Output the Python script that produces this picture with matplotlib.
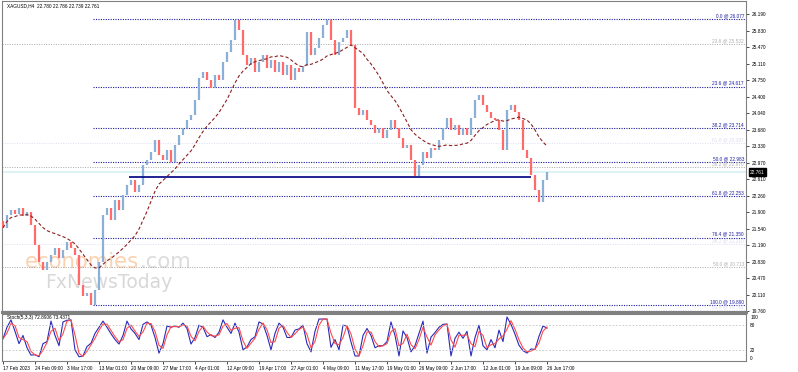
import matplotlib
matplotlib.use("Agg")
import matplotlib.pyplot as plt
import numpy as np
import pandas as pd

plt.rcParams['font.family'] = ['Liberation Sans', 'DejaVu Sans']

# H4 closes, one sample every 4 bars
closes = [21.56, 21.84, 21.95, 21.86, 21.99, 21.82, 21.90, 21.62, 21.19, 20.82,
          20.65, 20.82, 20.97, 21.12, 20.91, 21.08, 21.25, 21.12, 20.97, 20.32,
          20.08, 20.15, 19.90, 20.21, 20.82, 21.84, 21.99, 21.73, 22.16, 21.95,
          22.27, 22.49, 22.60, 22.34, 22.49, 22.92, 23.03, 23.20, 23.46, 23.14,
          23.03, 23.25, 22.99, 23.35, 23.57, 23.72, 23.90, 24.00, 24.33, 24.80,
          24.93, 24.76, 24.59, 24.87, 24.76, 25.15, 25.37, 25.63, 26.07, 25.84,
          25.30, 25.09, 25.24, 24.93, 25.15, 25.30, 25.02, 25.19, 24.93, 25.15,
          24.87, 25.09, 24.76, 25.02, 24.93, 25.06, 25.80, 25.30, 25.45, 25.67,
          25.95, 26.06, 25.63, 25.30, 25.58, 25.67, 25.84, 25.52, 24.15, 24.00,
          24.11, 23.90, 23.79, 23.61, 23.72, 23.51, 23.68, 23.90, 23.72, 23.51,
          23.29, 23.35, 23.03, 22.68, 22.92, 23.20, 23.07, 23.29, 23.25, 23.46,
          23.72, 23.94, 23.68, 23.79, 23.57, 23.72, 23.57, 23.94, 24.33, 24.44,
          24.22, 24.07, 23.94, 23.90, 23.68, 23.25, 24.11, 24.22, 24.07, 23.90,
          23.25, 23.07, 22.70, 22.38, 22.12, 22.60, 22.761]

# Stochastic %K, same sampling
stoch_k = [47, 75, 93, 65, 35, 55, 25, 7, 8, 3,
           35, 40, 90, 55, 30, 88, 92, 93, 20, 3,
           5, 28, 36, 60, 75, 90, 75, 59, 45, 34,
           55, 90, 71, 60, 45, 82, 88, 80, 50, 12,
           35, 78, 75, 78, 75, 85, 72, 34, 50, 80,
           75, 52, 57, 50, 63, 93, 75, 60, 85, 63,
           20, 27, 45, 52, 88, 83, 55, 20, 60, 85,
           75, 50, 50, 68, 71, 80, 35, 15, 65, 95,
           95, 95, 26, 45, 20, 80, 78, 39, 5, 5,
           55, 72, 55, 25, 30, 30, 40, 88, 55, 5,
           66, 50, 15, 30, 60, 90, 12, 51, 62, 75,
           82, 83, 5, 48, 63, 48, 65, 5, 50, 80,
           30, 20, 45, 25, 68, 40, 100, 82, 58, 31,
           18, 12, 22, 21, 53, 78, 72.89]

date_labels = ["17 Feb 2023", "24 Feb 09:00", "3 Mar 17:00", "13 Mar 01:00",
               "20 Mar 09:00", "27 Mar 17:00", "4 Apr 01:00", "12 Apr 09:00",
               "19 Apr 17:00", "27 Apr 01:00", "4 May 09:00", "11 May 17:00",
               "19 May 01:00", "26 May 09:00", "2 Jun 17:00", "12 Jun 01:00",
               "19 Jun 09:00", "26 Jun 17:00"]

price_ticks = [26.190, 25.830, 25.470, 25.110, 24.750, 24.400, 24.040, 23.680,
               23.330, 22.970, 22.610, 22.260, 21.900, 21.540, 21.190, 20.830,
               20.470, 20.110, 19.760]

fib_main_levels = [26.077, 24.617, 23.714, 22.983, 22.253, 21.350, 19.890]
fib_main_pcts = ["0.0", "23.6", "38.2", "50.0", "61.8", "76.4", "100.0"]
fib_grey_levels = [25.532, 22.870, 20.713]
fib_grey_pcts = ["23.6", "38.2", "50.0"]
fib_faint_levels = [23.397, 21.210, 19.781]
fib_faint_pcts = ["61.8", "38.2", "61.8"]

support_level = 22.66
last_price = 22.761

W, H = 798, 372
fig = plt.figure(figsize=(W / 100, H / 100), dpi=100)
fig.patch.set_facecolor("white")

ax = fig.add_axes([2 / W, 60 / H, 744 / W, 311 / H])
ax2 = fig.add_axes([2 / W, 11 / H, 744 / W, 47 / H], sharex=ax)

step = 4
n = np.arange(len(closes)) * step
c = np.array(closes)
o = np.r_[21.70, c[:-1]]

# watermark, behind the bars
t1 = ax.text(25 / W, 1 - 262 / H, "economies", fontsize=15.3, color="#fbd2b0",
             va="center", ha="left", zorder=0, family="DejaVu Sans",
             transform=fig.transFigure)
ax.annotate(".com", xy=(1, 0), xycoords=t1, va="bottom", ha="left",
            fontsize=15.3, color="#dcdcdc", family="DejaVu Sans", zorder=0)
ax.text(45 / W, 1 - 282 / H, "FxNewsToday", fontsize=13.5, color="#d8d8d8",
        va="center", ha="left", zorder=0, family="DejaVu Sans",
        transform=fig.transFigure)

# bars
bull = "#8ab0d8"
bear = "#ff6a6a"
cols = [bull if cc >= oo else bear for oo, cc in zip(o, c)]
ax.vlines(n, np.minimum(o, c), np.maximum(o, c), colors=cols, lw=1.6, zorder=3)

# moving average
ma = pd.Series(c).rolling(15, min_periods=1).mean()
ax.plot(n, ma, color="#8b2020", lw=0.8, ls=(0, (3, 2)), zorder=4)

# fib lines
navy = "#1c1ca0"
fs = 3.4
for lv, p in zip(fib_main_levels, fib_main_pcts):
    ax.hlines(lv, 90, 743, colors=navy, lw=0.8, ls=(0, (1, 1.2)), zorder=2)
    ax.text(741, lv + 0.02, f"{p} @ {lv:.3f}", fontsize=fs, color=navy,
            ha="right", va="bottom")
for lv, p in zip(fib_grey_levels, fib_grey_pcts):
    ax.axhline(lv, color="#a8a8a8", lw=0.7, ls=(0, (1, 1.5)), zorder=1)
    ax.text(741, lv + 0.02, f"{p} @ {lv:.3f}", fontsize=fs, color="#b0b0b0",
            ha="right", va="bottom")
for lv, p in zip(fib_faint_levels, fib_faint_pcts):
    ax.axhline(lv, color="#dcdcf2", lw=0.7, ls=(0, (1, 1.5)), zorder=1)
    ax.text(741, lv + 0.02, f"{p} @ {lv:.3f}", fontsize=fs, color="#dcdcf0",
            ha="right", va="bottom")

ax.axhline(last_price, color="#d6f0f2", lw=1.2, zorder=1)
ax.hlines(support_level, 126, 528, colors="#10108a", lw=1.3, zorder=5)

ax.set_xlim(-1, 743)
ax.set_ylim(19.738, 26.471)
ax.yaxis.tick_right()
ax.set_yticks(price_ticks)
ax.set_yticklabels([f"{v:.3f}" for v in price_ticks])
ax.tick_params(axis="y", labelsize=fs, length=2, pad=2, width=0.5)
ax.tick_params(axis="x", bottom=False, labelbottom=False)
for s in ax.spines.values():
    s.set_color("#808080")
    s.set_linewidth(0.8)
ax.spines["bottom"].set_linewidth(2.2)

ax.text(4, 26.43, "XAGUSD,H4  22.780 22.786 22.739 22.761", fontsize=fs,
        ha="left", va="top", color="black")
ax.annotate(f"{last_price:.3f}", xy=(1.0, last_price), xycoords=("axes fraction", "data"),
            xytext=(3, 0), textcoords="offset points", fontsize=fs, color="white",
            va="center", ha="left", annotation_clip=False,
            bbox=dict(boxstyle="square,pad=0.3", fc="black", ec="black"))

# stochastic
k = pd.Series(stoch_k, dtype=float)
d = k.rolling(2, min_periods=1).mean()
ax2.plot(n, k, color="#2a2ab8", lw=0.8)
ax2.plot(n, d, color="#ff4a4a", lw=0.8)
for lv in (80, 20):
    ax2.axhline(lv, color="#c4c4c4", lw=0.6, ls=(0, (2, 2)))
ax2.set_ylim(-7.3, 107.3)
ax2.yaxis.tick_right()
ax2.set_yticks([100, 80, 20, 0])
ax2.set_yticklabels(["100", "80", "20", "0"])
ax2.tick_params(axis="y", labelsize=fs, length=0, pad=3)
ax2.text(4, 104, "Stoch(5,3,3) 72.8906 73.4371", fontsize=fs, ha="left",
         va="top", color="black")

ticks = [32 * i for i in range(len(date_labels))]
ax2.set_xticks(ticks)
ax2.set_xticklabels(date_labels, ha="left")
ax2.tick_params(axis="x", labelsize=fs, length=2, pad=1.5, width=0.5)
for s in ax2.spines.values():
    s.set_color("#808080")
    s.set_linewidth(0.8)

fig.savefig("out.png", dpi=100)
